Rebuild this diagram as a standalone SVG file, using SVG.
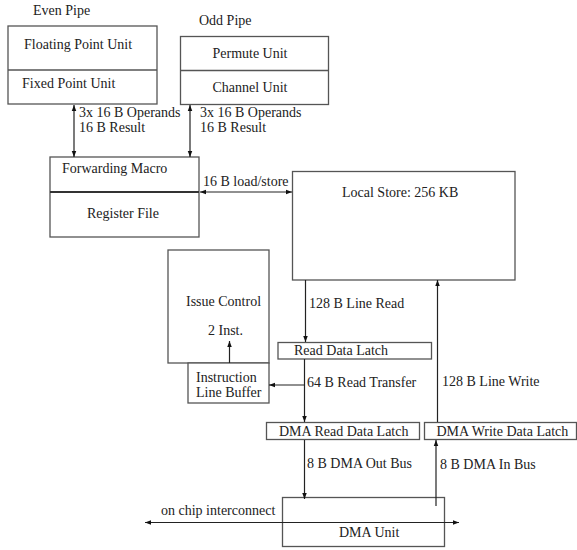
<svg xmlns="http://www.w3.org/2000/svg" width="577" height="550" viewBox="0 0 577 550">
<defs>
<style>
text{font-family:"Liberation Serif","Times New Roman",serif;font-size:14px;fill:#222}
.b{fill:#fff;stroke:#555;stroke-width:1.3}
.c{fill:none;stroke:#222;stroke-width:1.2}
.m{text-anchor:middle}
</style>
<marker id="ah" viewBox="0 0 8 8" refX="8" refY="4" markerWidth="6" markerHeight="6" markerUnits="userSpaceOnUse" orient="auto-start-reverse">
<path d="M0,1 L8,4 L0,7 z" fill="#111"/>
</marker>
</defs>
<rect width="577" height="550" fill="#fff"/>
<g id="even-pipe">
<text x="33" y="15">Even Pipe</text>
<rect class="b" x="8" y="26" width="149" height="78"/>
<line class="b" x1="8" y1="70" x2="157" y2="70"/>
<text x="24" y="49">Floating Point Unit</text>
<text x="22" y="88">Fixed Point Unit</text>
</g>
<g id="odd-pipe">
<text x="199" y="25">Odd Pipe</text>
<rect class="b" x="180.5" y="36.5" width="148" height="68"/>
<line class="b" x1="180.5" y1="70.5" x2="328.5" y2="70.5"/>
<text class="m" x="250" y="58">Permute Unit</text>
<text class="m" x="250" y="92">Channel Unit</text>
</g>
<g id="register-file">
<rect class="b" x="50" y="157" width="149" height="80"/>
<line x1="50" y1="192" x2="199" y2="192" stroke="#333" stroke-width="2"/>
<text x="62" y="173">Forwarding Macro</text>
<text x="87" y="218">Register File</text>
</g>
<g id="local-store">
<rect class="b" x="292.5" y="171.5" width="222.5" height="108.5"/>
<text x="342" y="197">Local Store: 256 KB</text>
</g>
<g id="issue-control">
<rect class="b" x="168" y="250" width="101" height="113"/>
<text x="186" y="306">Issue Control</text>
<text x="208" y="335">2 Inst.</text>
</g>
<g id="instruction-line-buffer">
<rect class="b" x="188" y="363" width="81" height="40"/>
<text x="196" y="382">Instruction</text>
<text x="196" y="397">Line Buffer</text>
</g>
<g id="read-data-latch">
<rect class="b" x="278" y="342.5" width="153.5" height="16.5"/>
<text x="294" y="355">Read Data Latch</text>
</g>
<g id="dma-read-data-latch">
<rect class="b" x="266.5" y="422.5" width="153" height="17"/>
<text x="279" y="436">DMA Read Data Latch</text>
</g>
<g id="dma-write-data-latch">
<rect class="b" x="424.5" y="422.5" width="152" height="17"/>
<text x="436.5" y="436">DMA Write Data Latch</text>
</g>
<g id="dma-unit">
<rect class="b" x="282.5" y="497.5" width="162" height="49"/>
<text x="339" y="537">DMA Unit</text>
</g>
<g id="connectors">
<line class="c" x1="74" y1="105" x2="74" y2="157" marker-start="url(#ah)" marker-end="url(#ah)"/>
<line class="c" x1="190" y1="105" x2="190" y2="157" marker-start="url(#ah)" marker-end="url(#ah)"/>
<line class="c" x1="200" y1="192" x2="292" y2="192" marker-start="url(#ah)" marker-end="url(#ah)"/>
<line class="c" x1="305.5" y1="280" x2="305.5" y2="342" marker-end="url(#ah)"/>
<line class="c" x1="304.5" y1="359" x2="304.5" y2="422" marker-end="url(#ah)"/>
<line class="c" x1="304.5" y1="385" x2="269" y2="385" marker-end="url(#ah)"/>
<line class="c" x1="229.5" y1="363" x2="229.5" y2="341" marker-end="url(#ah)"/>
<line class="c" x1="437.5" y1="422" x2="437.5" y2="280" marker-end="url(#ah)"/>
<line class="c" x1="304.5" y1="440" x2="304.5" y2="499" marker-end="url(#ah)"/>
<line class="c" x1="436" y1="506" x2="436" y2="440" marker-end="url(#ah)"/>
<line class="c" x1="145" y1="522.5" x2="459" y2="522.5" marker-start="url(#ah)" marker-end="url(#ah)"/>
<text x="79" y="117">3x 16 B Operands</text>
<text x="79" y="132">16 B Result</text>
<text x="200" y="117">3x 16 B Operands</text>
<text x="200" y="132">16 B Result</text>
<text x="203" y="186">16 B load/store</text>
<text x="309" y="308">128 B Line Read</text>
<text x="307" y="387">64 B Read Transfer</text>
<text x="442" y="386">128 B Line Write</text>
<text x="307" y="468">8 B DMA Out Bus</text>
<text x="440" y="469">8 B DMA In Bus</text>
<text x="161" y="515">on chip interconnect</text>
</g>
</svg>
